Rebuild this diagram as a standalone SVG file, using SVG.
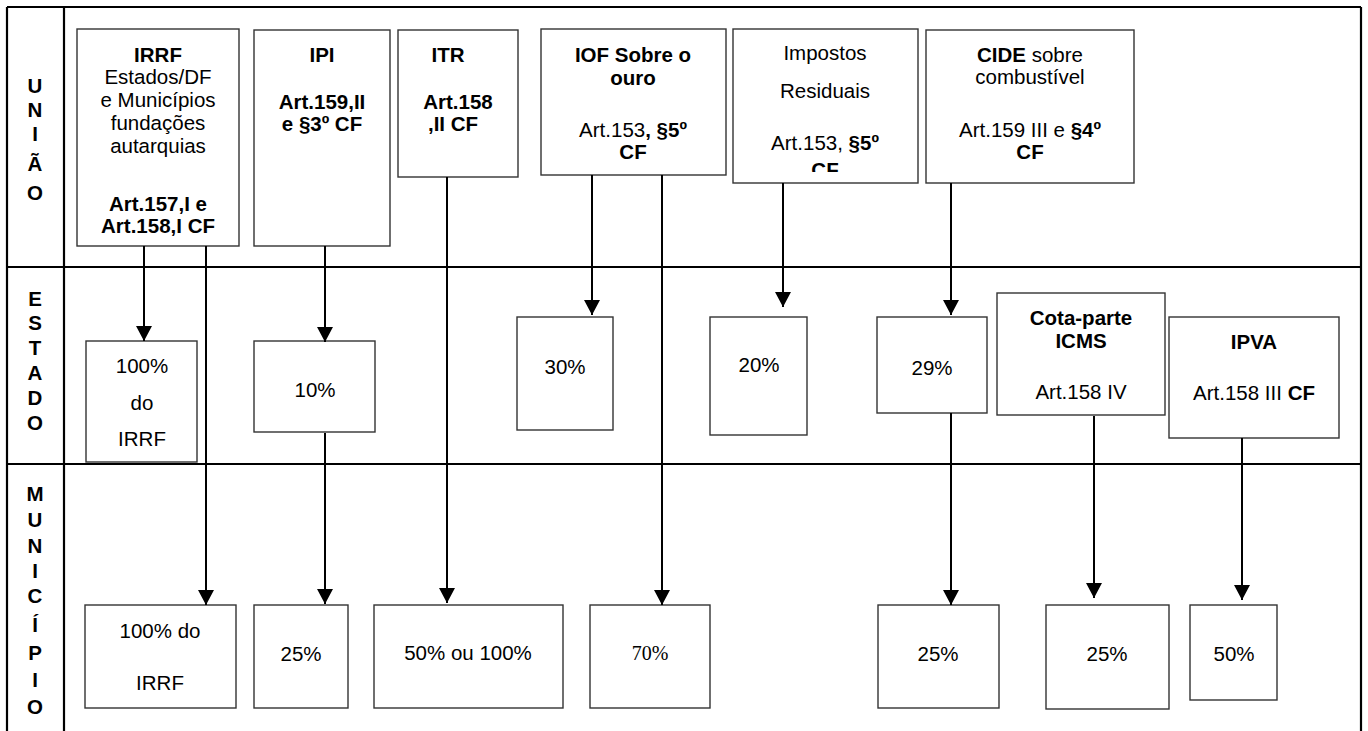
<svg xmlns="http://www.w3.org/2000/svg" width="1368" height="731" viewBox="0 0 1368 731">
<style>
.grid{stroke:#000;stroke-width:2.2;fill:none}
.box{fill:#fff;stroke:#333;stroke-width:1.4}
.con{stroke:#000;stroke-width:2;fill:none}
text{font-family:"Liberation Sans",Arial,sans-serif;font-size:20.5px;fill:#000;text-anchor:middle}
.b{font-weight:bold}
.serif{font-family:"Liberation Serif","Times New Roman",serif;font-size:20px}
.lab{font-weight:bold}
</style>
<defs>
<marker id="ah" viewBox="0 0 15 16" refX="15" refY="8" markerWidth="15" markerHeight="16" markerUnits="userSpaceOnUse" orient="auto">
<path d="M0,0 L15,8 L0,16 z" fill="#000"/>
</marker>
<clipPath id="clipRes"><rect x="733" y="29" width="185" height="143"/></clipPath>
</defs>
<rect width="1368" height="731" fill="#fff"/>
<g id="grid">
<line class="grid" x1="7" y1="7" x2="1361" y2="7"/>
<line class="grid" x1="7" y1="7" x2="7" y2="731"/>
<line class="grid" x1="64" y1="7" x2="64" y2="731"/>
<line class="grid" x1="1361" y1="7" x2="1361" y2="731"/>
<line class="grid" x1="7" y1="267" x2="1361" y2="267"/>
<line class="grid" x1="7" y1="464" x2="1361" y2="464"/>
</g>
<g id="lane-labels" class="lab">
<text x="35" y="93" class="b">U</text>
<text x="35" y="117" class="b">N</text>
<text x="35" y="141" class="b">I</text>
<text x="35" y="171" class="b">Ã</text>
<text x="35" y="200" class="b">O</text>
<text x="35" y="306" class="b">E</text>
<text x="35" y="330" class="b">S</text>
<text x="35" y="355" class="b">T</text>
<text x="35" y="380" class="b">A</text>
<text x="35" y="405" class="b">D</text>
<text x="35" y="430" class="b">O</text>
<text x="35" y="501" class="b">M</text>
<text x="35" y="527" class="b">U</text>
<text x="35" y="553" class="b">N</text>
<text x="35" y="578" class="b">I</text>
<text x="35" y="603" class="b">C</text>
<text x="35" y="632" class="b">Í</text>
<text x="35" y="660" class="b">P</text>
<text x="35" y="687" class="b">I</text>
<text x="35" y="714" class="b">O</text>
</g>
<g id="n-irrf">
<rect class="box" x="77" y="29" width="162" height="217"/>
<text x="158" y="62" class="b">IRRF</text>
<text x="158" y="84">Estados/DF</text>
<text x="158" y="107">e Municípios</text>
<text x="158" y="130">fundações</text>
<text x="158" y="153">autarquias</text>
<text x="158" y="211" class="b">Art.157,I e</text>
<text x="158" y="233" class="b">Art.158,I CF</text>
</g>
<g id="n-ipi">
<rect class="box" x="254" y="30" width="136" height="216"/>
<text x="322" y="62" class="b">IPI</text>
<text x="322" y="109" class="b">Art.159,II</text>
<text x="322" y="131" class="b">e §3º CF</text>
</g>
<g id="n-itr">
<rect class="box" x="398" y="30" width="120" height="147"/>
<text x="448" y="62" class="b">ITR</text>
<text x="458" y="109" class="b">Art.158</text>
<text x="453" y="131" class="b">,II CF</text>
</g>
<g id="n-iof">
<rect class="box" x="541" y="29" width="185" height="146"/>
<text x="633" y="62" class="b">IOF Sobre o</text>
<text x="633" y="85" class="b">ouro</text>
<text x="633" y="137">Art.153<tspan class="b">, §5º</tspan></text>
<text x="633" y="159" class="b">CF</text>
</g>
<g id="n-residuais">
<rect class="box" x="733" y="29" width="185" height="154"/>
<text x="825" y="60">Impostos</text>
<text x="825" y="98">Residuais</text>
<text x="825" y="150">Art.153, <tspan class="b">§5º</tspan></text>
<text x="825" y="177" class="b" clip-path="url(#clipRes)">CF</text>
</g>
<g id="n-cide">
<rect class="box" x="926" y="30" width="208" height="153"/>
<text x="1030" y="62"><tspan class="b">CIDE</tspan> sobre</text>
<text x="1030" y="84">combustível</text>
<text x="1030" y="137">Art.159 III e <tspan class="b">§4º</tspan></text>
<text x="1030" y="159" class="b">CF</text>
</g>
<g id="e-irrf">
<rect class="box" x="86" y="341" width="111" height="121"/>
<text x="142" y="373">100%</text>
<text x="142" y="410">do</text>
<text x="142" y="446">IRRF</text>
</g>
<g id="e-ipi">
<rect class="box" x="254" y="341" width="121" height="91"/>
<text x="315" y="397">10%</text>
</g>
<g id="e-iof">
<rect class="box" x="517" y="317" width="96" height="113"/>
<text x="565" y="374">30%</text>
</g>
<g id="e-res">
<rect class="box" x="710" y="317" width="97" height="118"/>
<text x="759" y="372">20%</text>
</g>
<g id="e-cide">
<rect class="box" x="877" y="317" width="110" height="96"/>
<text x="932" y="375">29%</text>
</g>
<g id="e-icms">
<rect class="box" x="997" y="293" width="168" height="122"/>
<text x="1081" y="325" class="b">Cota-parte</text>
<text x="1081" y="348" class="b">ICMS</text>
<text x="1081" y="399">Art.158 IV</text>
</g>
<g id="e-ipva">
<rect class="box" x="1169" y="317" width="170" height="121"/>
<text x="1254" y="349" class="b">IPVA</text>
<text x="1254" y="400">Art.158 III <tspan class="b">CF</tspan></text>
</g>
<g id="m-irrf">
<rect class="box" x="85" y="605" width="151" height="103"/>
<text x="160" y="638">100% do</text>
<text x="160" y="690">IRRF</text>
</g>
<g id="m-ipi">
<rect class="box" x="254" y="605" width="94" height="103"/>
<text x="301" y="661">25%</text>
</g>
<g id="m-itr">
<rect class="box" x="374" y="605" width="189" height="103"/>
<text x="468" y="660">50% ou 100%</text>
</g>
<g id="m-iof">
<rect class="box" x="590" y="605" width="120" height="103"/>
<text x="650" y="660" class="serif">70%</text>
</g>
<g id="m-cide">
<rect class="box" x="878" y="605" width="121" height="103"/>
<text x="938" y="661">25%</text>
</g>
<g id="m-icms">
<rect class="box" x="1046" y="605" width="123" height="104"/>
<text x="1107" y="661">25%</text>
</g>
<g id="m-ipva">
<rect class="box" x="1190" y="605" width="87" height="95"/>
<text x="1234" y="661">50%</text>
</g>
<g id="connectors">
<line class="con" x1="144" y1="246" x2="144" y2="341" marker-end="url(#ah)"/>
<line class="con" x1="206" y1="246" x2="206" y2="605" marker-end="url(#ah)"/>
<line class="con" x1="325" y1="246" x2="325" y2="342" marker-end="url(#ah)"/>
<line class="con" x1="325" y1="433" x2="325" y2="604" marker-end="url(#ah)"/>
<line class="con" x1="447" y1="177" x2="447" y2="603" marker-end="url(#ah)"/>
<line class="con" x1="592" y1="175" x2="592" y2="315" marker-end="url(#ah)"/>
<line class="con" x1="662" y1="175" x2="662" y2="605" marker-end="url(#ah)"/>
<line class="con" x1="783" y1="183" x2="783" y2="307" marker-end="url(#ah)"/>
<line class="con" x1="951" y1="183" x2="951" y2="315" marker-end="url(#ah)"/>
<line class="con" x1="951" y1="413" x2="951" y2="605" marker-end="url(#ah)"/>
<line class="con" x1="1094" y1="416" x2="1094" y2="598" marker-end="url(#ah)"/>
<line class="con" x1="1242" y1="438" x2="1242" y2="600" marker-end="url(#ah)"/>
</g>
</svg>
